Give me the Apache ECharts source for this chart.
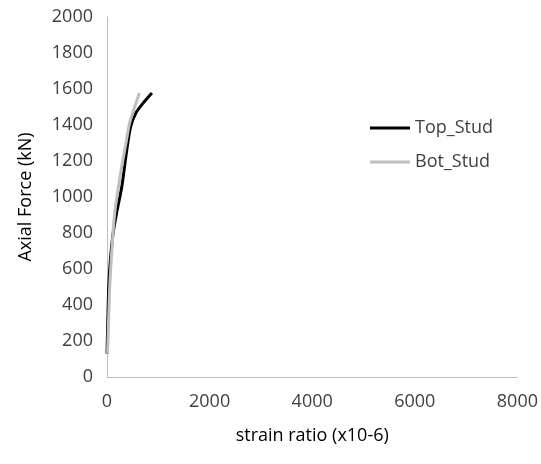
<!DOCTYPE html>
<html><head><meta charset="utf-8">
<script src="https://cdn.jsdelivr.net/npm/echarts@6/dist/echarts.min.js"></script>
<style>body{margin:0;background:#fff}#c{width:541px;height:464px}</style>
</head><body><div id="c"></div>
<script>
// strain, force pairs
const topStud = [[0, 130], [15, 300], [40, 540], [110, 780], [200, 930], [290, 1060], [380, 1250], [460, 1390], [560, 1465], [700, 1520], [875, 1578]]
const botStud = [[10, 130], [30, 300], [60, 540], [150, 910], [270, 1140], [370, 1300], [440, 1410], [540, 1500], [630, 1578]]

let chart = echarts.init(document.getElementById('c'))
const font = '"Open Sans", sans-serif'
chart.setOption({
    animation: false,
    grid: { left: 107, right: 13, top: 17, bottom: 87 },
    legend: {
        orient: 'vertical', left: 365, top: 114, itemGap: 16, itemWidth: 40,
        icon: 'rect', itemHeight: 3,
        textStyle: { fontSize: 18, color: '#404040', fontFamily: font },
        data: ['Top_Stud', 'Bot_Stud']
    },
    xAxis: {
        type: 'value', min: 0, max: 8000, interval: 2000,
        name: 'strain ratio (x10-6)', nameLocation: 'middle', nameGap: 50,
        nameTextStyle: { fontSize: 18, color: '#000', fontFamily: font },
        axisLine: { lineStyle: { color: '#bfbfbf' } }, axisTick: { show: false },
        axisLabel: { fontSize: 18, color: '#404040', fontFamily: font, margin: 16, formatter: v => String(v) },
        splitLine: { show: false }
    },
    yAxis: {
        type: 'value', min: 0, max: 2000, interval: 200,
        name: 'Axial Force (kN)', nameLocation: 'middle', nameGap: 72,
        nameTextStyle: { fontSize: 18, color: '#000', fontFamily: font },
        axisLine: { show: true, lineStyle: { color: '#bfbfbf' } }, axisTick: { show: false },
        axisLabel: { fontSize: 18, color: '#404040', fontFamily: font, margin: 14, formatter: v => String(v) },
        splitLine: { show: false }
    },
    series: [
        { name: 'Top_Stud', type: 'line', data: topStud, smooth: 0.3, showSymbol: false, lineStyle: { color: '#000', width: 3 }, itemStyle: { color: '#000' } },
        { name: 'Bot_Stud', type: 'line', data: botStud, smooth: 0.3, showSymbol: false, lineStyle: { color: '#bfbfbf', width: 3 }, itemStyle: { color: '#bfbfbf' } }
    ]
})
</script></body></html>
